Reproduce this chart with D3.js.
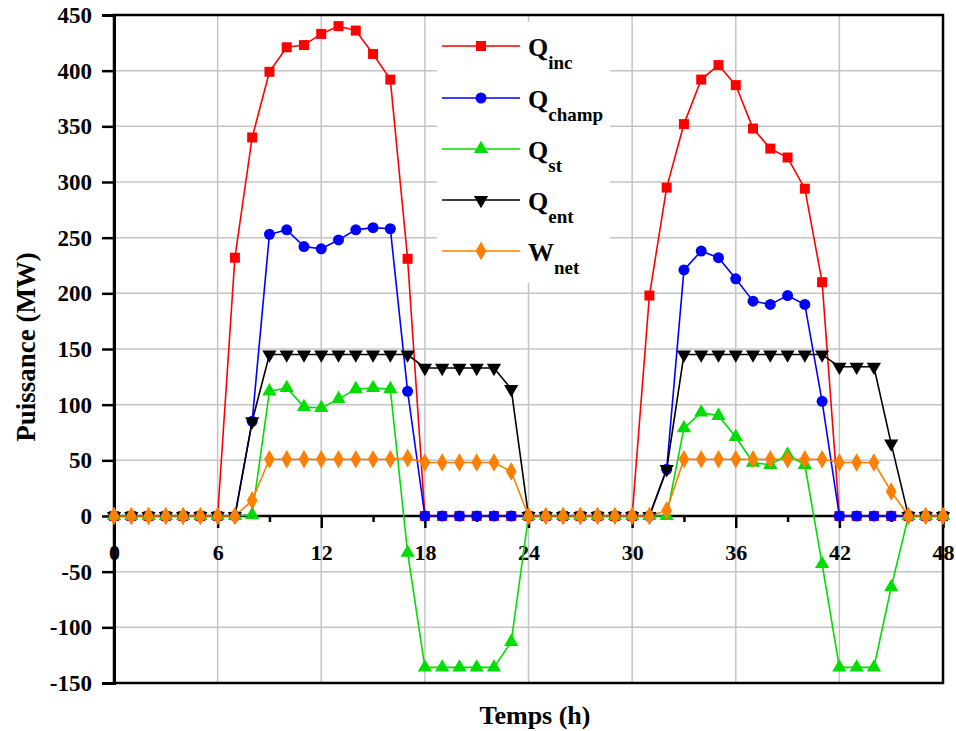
<!DOCTYPE html>
<html>
<head>
<meta charset="utf-8">
<script src="https://cdn.jsdelivr.net/npm/d3@7"></script>
<style>
  html, body { margin: 0; padding: 0; background: #fff; }
  svg { display: block; }
  text { font-family: "Liberation Serif", "Times New Roman", serif; font-weight: bold; }
</style>
</head>
<body>
<svg id="chart" width="956" height="731"></svg>
<script>
// ---------- DATA ----------
const hours = d3.range(0, 49);
const xTicks = [0, 6, 12, 18, 24, 30, 36, 42, 48];
const xMinorTicks = [3, 9, 15, 21, 27, 33, 39, 45];
const yTicks = [-150, -100, -50, 0, 50, 100, 150, 200, 250, 300, 350, 400, 450];

const Qinc = [0,0,0,0,0,0,0, 232,340,399,421,423,433,440,436,415,392,231,
  0,0,0,0,0,0,0,0,0,0,0,0,0, 198,295,352,392,405,387,348,330,322,294,210,
  0,0,0,0,0,0,0];
const Qchamp = [0,0,0,0,0,0,0,0, 85,253,257,242,240,248,257,259,258,112,
  0,0,0,0,0,0,0,0,0,0,0,0,0,0, 42,221,238,232,213,193,190,198,190,103,
  0,0,0,0,0,0,0];
const Qst = [0,0,0,0,0,0,0,0,1, 112,115,98,97,105,114,115,114, -33, -136,-136,-136,-136,-136,-113,
  0,0,0,0,0,0,0,0,0, 79,93,90,71,48,46,55,46, -43, -136,-136,-136,-64, 0,0,0];
const Qent = [0,0,0,0,0,0,0,0, 85, 145,145,145,145,145,145,145,145,145, 133,133,133,133,133, 114,
  0,0,0,0,0,0,0,0, 42, 145,145,145,145,145,145,145,145,145, 134,134,134, 65, 0,0,0];
const Wnet = [0,0,0,0,0,0,0,0, 14, 51,51,51,51,51,51,51,51,52, 48,48,48,48,48, 40,
  0,0,0,0,0,0,0,0, 5, 51,51,51,51,51,51,51,51,51, 48,48,48, 22, 0,0,0];

const seriesNames = [["Q","inc"],["Q","champ"],["Q","st"],["Q","ent"],["W","net"]];

// ---------- CHART ----------
const svg = d3.select("#chart");
const L = 114, R = 943, T = 15, B = 683;
const x = d3.scaleLinear().domain([0, 48]).range([L, R]);
const y = d3.scaleLinear().domain([-150, 450]).range([B, T]);

const series = [
  {vals: Qinc, color: "#ff0000", sym: d3.symbolSquare, size: 100, rot: 0},
  {vals: Qchamp, color: "#0000ff", sym: d3.symbolCircle, size: 95, rot: 0},
  {vals: Qst, color: "#00dd00", sym: d3.symbolTriangle, size: 88, rot: 0},
  {vals: Qent, color: "#000000", sym: d3.symbolTriangle, size: 88, rot: 180},
  {vals: Wnet, color: "#ff7f00", sym: d3.symbolDiamond, size: 100, rot: 0}
];

// grid
const grid = svg.append("g").attr("stroke", "#c4c4c4").attr("stroke-width", 1.5);
grid.selectAll("line.v").data(xTicks.filter(t => t > 0 && t < 48)).enter().append("line")
  .attr("x1", d => x(d)).attr("x2", d => x(d)).attr("y1", T).attr("y2", B);
grid.selectAll("line.h").data(yTicks.filter(t => t > -150 && t < 450 && t !== 0)).enter().append("line")
  .attr("x1", L).attr("x2", R).attr("y1", d => y(d)).attr("y2", d => y(d));

// legend background (hides grid)
svg.append("rect").attr("x", 437).attr("y", 22).attr("width", 173).attr("height", 261).attr("fill", "#fff");

// frame
svg.append("rect").attr("x", L).attr("y", T).attr("width", R - L).attr("height", B - T)
  .attr("fill", "none").attr("stroke", "#000").attr("stroke-width", 2.5);

const fmt = d => String(d);

// y axis
const yAxis = d3.axisLeft(y).tickValues(yTicks).tickSize(12).tickPadding(8).tickFormat(fmt);
const gy = svg.append("g").attr("transform", `translate(${L},0)`).call(yAxis);
gy.select(".domain").attr("stroke-width", 3);
gy.selectAll(".tick line").attr("stroke-width", 2.5);
gy.selectAll(".tick text").attr("font-size", 23).attr("fill", "#000")
  .attr("font-family", "'Liberation Serif', serif").attr("font-weight", "bold").attr("x", -22);

// x axis at y=0
const xAxis = d3.axisBottom(x).tickValues(xTicks).tickSize(12).tickPadding(16).tickFormat(fmt);
const gx = svg.append("g").attr("transform", `translate(0,${y(0)})`).call(xAxis);
gx.select(".domain").attr("stroke-width", 2.5).attr("d", `M${L},0H${R}`);
gx.selectAll(".tick line").attr("stroke-width", 2.5);
gx.selectAll(".tick text").attr("font-size", 22).attr("fill", "#000")
  .attr("font-family", "'Liberation Serif', serif").attr("font-weight", "bold");
const xMinor = d3.axisBottom(x).tickValues(xMinorTicks).tickSize(6).tickFormat("");
const gxm = svg.append("g").attr("transform", `translate(0,${y(0)})`).call(xMinor);
gxm.select(".domain").remove();
gxm.selectAll(".tick line").attr("stroke-width", 2.5);

// axis titles
svg.append("text").attr("x", 535).attr("y", 724).attr("text-anchor", "middle")
  .attr("font-size", 26).text("Temps (h)");
svg.append("text").attr("transform", "translate(35,347) rotate(-90)").attr("text-anchor", "middle")
  .attr("font-size", 27).text("Puissance (MW)");

// series lines and markers
const line = d3.line().x((d, i) => x(hours[i])).y(d => y(d));
series.forEach(s => {
  svg.append("path").datum(s.vals).attr("d", line)
    .attr("fill", "none").attr("stroke", s.color).attr("stroke-width", 1.6);
});
series.forEach(s => {
  const sym = d3.symbol().type(s.sym).size(s.size);
  svg.append("g").selectAll("path").data(s.vals).enter().append("path")
    .attr("d", sym)
    .attr("transform", (d, i) => `translate(${x(hours[i])},${y(d)}) rotate(${s.rot})`)
    .attr("fill", s.color);
});

// legend
const legY = [46, 98, 149, 200, 251];
series.forEach((s, i) => {
  const g = svg.append("g").attr("transform", `translate(0,${legY[i]})`);
  g.append("line").attr("x1", 442).attr("x2", 520).attr("y1", 0).attr("y2", 0)
    .attr("stroke", s.color).attr("stroke-width", 1.6);
  g.append("path").attr("d", d3.symbol().type(s.sym).size(s.size)())
    .attr("transform", `translate(481,0) rotate(${s.rot})`).attr("fill", s.color);
  const t = g.append("text").attr("x", 528).attr("y", 10).attr("font-size", 26);
  t.append("tspan").text(seriesNames[i][0]);
  t.append("tspan").attr("font-size", 19).attr("dy", 13).text(seriesNames[i][1]);
});
</script>
</body>
</html>
